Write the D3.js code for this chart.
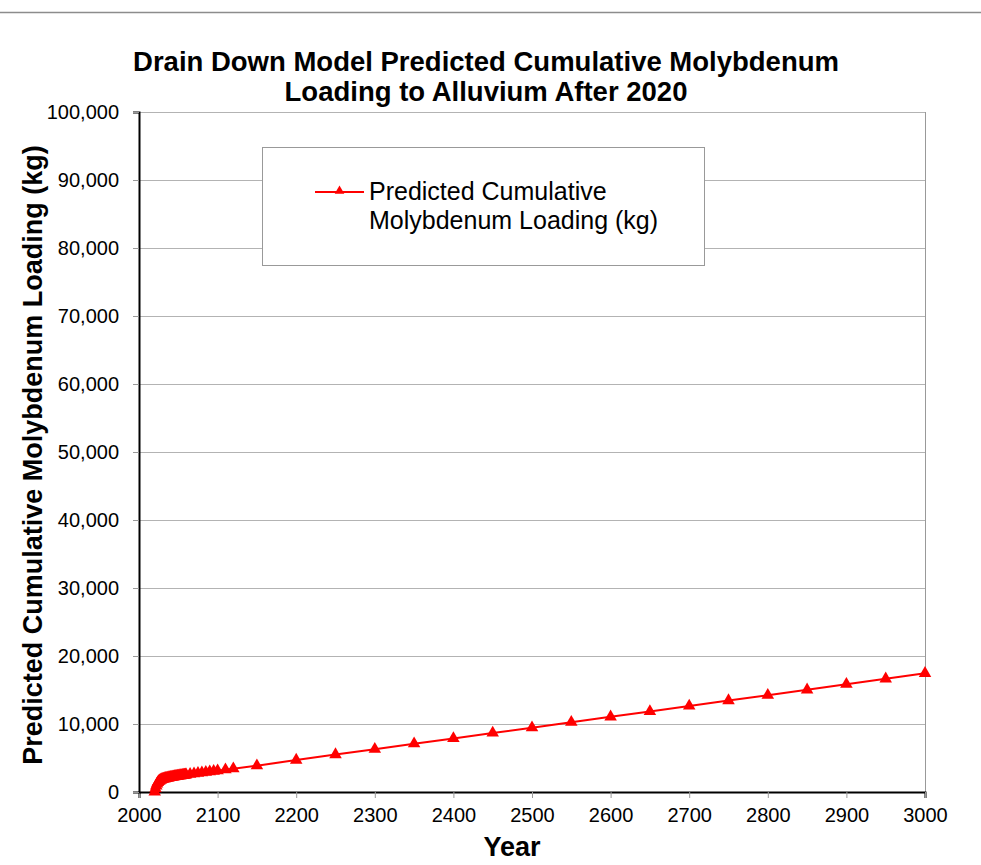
<!DOCTYPE html>
<html lang="en">
<head>
    <meta charset="UTF-8">
    <title>Drain Down Model Predicted Cumulative Molybdenum Loading</title>
    <script src="https://d3js.org/d3.v7.min.js"></script>
    <style>
        body {
            margin: 0;
            padding: 0;
            background: white;
            font-family: "Liberation Sans", Arial, sans-serif;
        }

        .grid line {
            stroke: #b3b3b3;
            stroke-width: 1px;
        }

        .tick-label {
            font-size: 20px;
            fill: #000;
        }

        .title {
            font-size: 27.5px;
            font-weight: bold;
        }

        .axis-title {
            font-size: 27px;
            font-weight: bold;
        }

        .legend-text {
            font-size: 25px;
        }
    </style>
</head>
<body>
<div id="chart"></div>
<script>

    // Years of the model output (yearly at first, then sparser)
    const years = [
        2020, 2021, 2022, 2023, 2024, 2025, 2026, 2027, 2028, 2029,
        2030, 2031, 2032, 2033, 2034, 2035, 2036, 2037, 2038, 2039,
        2040, 2041, 2042, 2043, 2044, 2045, 2046, 2047, 2048, 2049,
        2050, 2051, 2052, 2053, 2054, 2055, 2056, 2057, 2058, 2059,
        2060, 2065, 2070, 2075, 2080, 2085, 2090, 2095, 2100,
        2110, 2120, 2150, 2200, 2250, 2300, 2350, 2400, 2450, 2500,
        2550, 2600, 2650, 2700, 2750, 2800, 2850, 2900, 2950, 3000
    ];

    // Predicted cumulative molybdenum loading (kg)
    const loading = [
        0, 500, 900, 1200, 1400, 1550, 1650, 1730, 1790, 1840,
        1880, 1915, 1950, 1980, 2010, 2040, 2065, 2090, 2115, 2140,
        2160, 2185, 2205, 2225, 2250, 2270, 2290, 2310, 2330, 2350,
        2370, 2390, 2405, 2425, 2445, 2460, 2480, 2495, 2515, 2530,
        2545, 2625, 2700, 2775, 2850, 2920, 2990, 3060, 3130,
        3280, 3430, 3870, 4700, 5500, 6300, 7100, 7880, 8680, 9460,
        10260, 11050, 11850, 12650, 13440, 14230, 15030, 15850, 16650, 17460
    ];

    const xTicks = [2000, 2100, 2200, 2300, 2400, 2500, 2600, 2700, 2800, 2900, 3000];
    const yTicks = [0, 10000, 20000, 30000, 40000, 50000, 60000, 70000, 80000, 90000, 100000];

    const titleLines = ["Drain Down Model Predicted Cumulative Molybdenum", "Loading to Alluvium After 2020"];
    const legendLines = ["Predicted Cumulative", "Molybdenum Loading (kg)"];

    const width = 981, height = 865;
    const plot = {left: 139, right: 925, top: 112, bottom: 792};

    const svg = d3.select("#chart")
        .append("svg")
        .attr("width", width)
        .attr("height", height);

    // thin rule across the top of the page
    svg.append("line")
        .attr("x1", 0).attr("x2", width)
        .attr("y1", 12.5).attr("y2", 12.5)
        .attr("stroke", "#8c8c8c")
        .attr("stroke-width", 1.5);

    const x = d3.scaleLinear().domain([2000, 3000]).range([plot.left, plot.right]);
    const y = d3.scaleLinear().domain([0, 100000]).range([plot.bottom, plot.top]);

    // horizontal gridlines
    svg.append("g")
        .attr("class", "grid")
        .selectAll("line")
        .data(yTicks.slice(1))
        .enter()
        .append("line")
        .attr("x1", plot.left)
        .attr("x2", plot.right)
        .attr("y1", d => Math.round(y(d)) + 0.5)
        .attr("y2", d => Math.round(y(d)) + 0.5);

    // right border of plot area
    svg.append("line")
        .attr("x1", plot.right + 0.5).attr("x2", plot.right + 0.5)
        .attr("y1", plot.top).attr("y2", plot.bottom)
        .attr("stroke", "#999")
        .attr("stroke-width", 1);

    // x axis
    const xAxis = svg.append("g")
        .attr("transform", `translate(0,${plot.bottom})`)
        .call(d3.axisBottom(x).tickValues(xTicks).tickSize(6).tickFormat(d3.format("d")));
    xAxis.select(".domain").attr("stroke", "#000").attr("stroke-width", 2);
    xAxis.selectAll(".tick line").attr("stroke", "#999");
    xAxis.selectAll(".tick text")
        .attr("class", "tick-label")
        .attr("dy", 0)
        .attr("y", 30)
        .style("font-family", "Liberation Sans, Arial, sans-serif");

    // y axis
    const yAxis = svg.append("g")
        .attr("transform", `translate(${plot.left},0)`)
        .call(d3.axisLeft(y).tickValues(yTicks).tickSize(6).tickFormat(d3.format(",")));
    yAxis.select(".domain").attr("stroke", "#000").attr("stroke-width", 2);
    yAxis.selectAll(".tick line").attr("stroke", "#999");
    yAxis.selectAll(".tick text")
        .attr("class", "tick-label")
        .attr("x", -20)
        .style("font-family", "Liberation Sans, Arial, sans-serif");

    // series line + triangle markers
    const points = years.map((yr, i) => [yr, loading[i]]);

    svg.append("path")
        .datum(points)
        .attr("fill", "none")
        .attr("stroke", "#ff0000")
        .attr("stroke-width", 2)
        .attr("d", d3.line().x(d => x(d[0])).y(d => y(d[1])));

    const triangle = d3.symbol().type(d3.symbolTriangle).size(68);

    svg.append("g")
        .selectAll("path")
        .data(points)
        .enter()
        .append("path")
        .attr("d", triangle)
        .attr("transform", d => `translate(${x(d[0])},${y(d[1])})`)
        .attr("fill", "#ff0000");

    // legend
    const legend = svg.append("g");
    legend.append("rect")
        .attr("x", 262.5).attr("y", 147.5)
        .attr("width", 442).attr("height", 118)
        .attr("fill", "white")
        .attr("stroke", "#999")
        .attr("stroke-width", 1);
    legend.append("line")
        .attr("x1", 315).attr("x2", 364)
        .attr("y1", 192).attr("y2", 192)
        .attr("stroke", "#ff0000")
        .attr("stroke-width", 2);
    legend.append("path")
        .attr("d", d3.symbol().type(d3.symbolTriangle).size(40))
        .attr("transform", "translate(339.5,191)")
        .attr("fill", "#ff0000");
    legend.selectAll("text")
        .data(legendLines)
        .enter()
        .append("text")
        .attr("class", "legend-text")
        .attr("x", 369)
        .attr("y", (d, i) => 200 + i * 29)
        .text(d => d);

    // titles
    svg.selectAll(".title")
        .data(titleLines)
        .enter()
        .append("text")
        .attr("class", "title")
        .attr("x", 486)
        .attr("y", (d, i) => 71 + i * 30)
        .attr("text-anchor", "middle")
        .text(d => d);

    svg.append("text")
        .attr("class", "axis-title")
        .attr("x", 512)
        .attr("y", 856)
        .attr("text-anchor", "middle")
        .text("Year");

    svg.append("text")
        .attr("class", "axis-title")
        .attr("transform", `translate(42,${(plot.top + plot.bottom) / 2 + 3}) rotate(-90)`)
        .attr("text-anchor", "middle")
        .text("Predicted Cumulative Molybdenum Loading (kg)");

</script>
</body>
</html>
